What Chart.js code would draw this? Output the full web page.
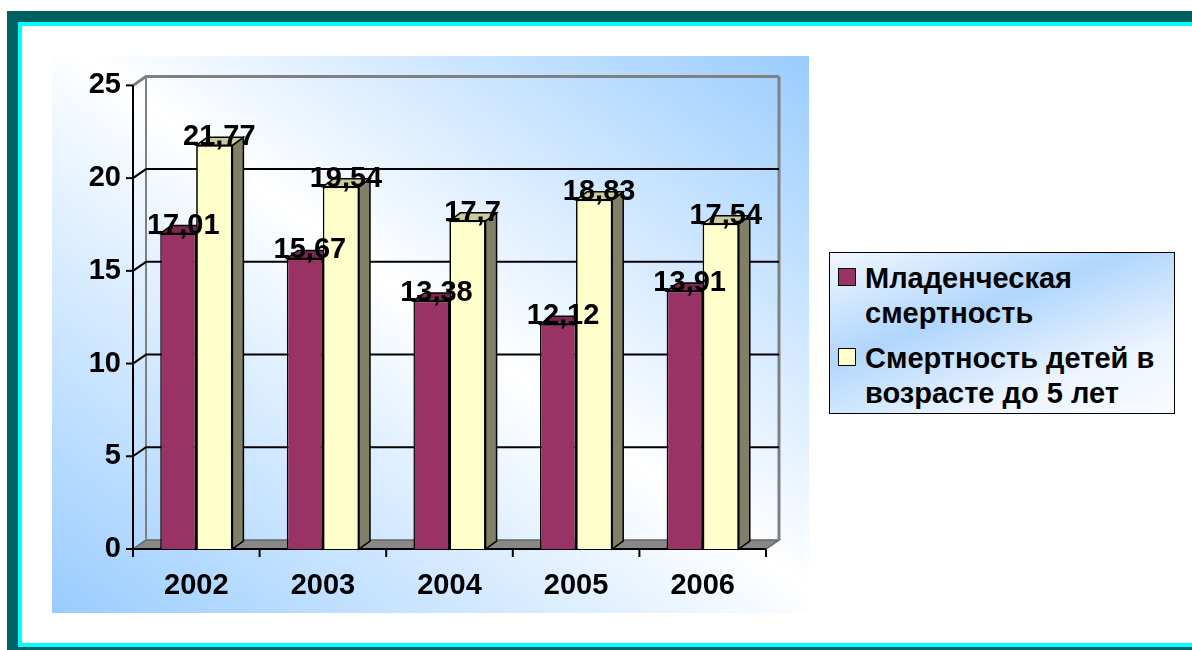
<!DOCTYPE html>
<html>
<head>
<meta charset="utf-8">
<script src="https://cdn.jsdelivr.net/npm/chart.js@4"></script>
<style>
  html, body { margin: 0; padding: 0; width: 1192px; height: 650px; overflow: hidden; background: #fff; }
  .frame { position: absolute; left: 7px; top: 11px; width: 1300px; height: 625px; border: 11px solid #006464; border-top-color: #005f5f; }
  .frame-inner { position: absolute; left: 0; top: 0; right: 0; bottom: 0; border: 4px solid #00ffff; background: #fff; }
  .chart-box { position: absolute; left: 52px; top: 56px; width: 757px; height: 557px;
    background: linear-gradient(to top right, #99ccff 0%, #ffffff 52%, #99ccff 100%); }
  .legend { position: absolute; left: 829px; top: 252px; width: 344px; height: 160px; border: 1px solid #000;
    background: linear-gradient(160deg, #f2f7ff 0%, #b0d6fc 38%, #eef5ff 75%, #f8fbff 100%);
    font: bold 29px "Liberation Sans", Arial, sans-serif; color: #000; }
  .item { position: absolute; left: 8px; display: flex; line-height: 35px; }
  .swatch { width: 16px; height: 16px; border: 1.5px solid #000; margin-top: 7px; margin-right: 9px; flex: none; }
</style>
</head>
<body>
<div class="frame"><div class="frame-inner"></div></div>
<div class="chart-box"><canvas id="chart" width="757" height="557"></canvas></div>
<div class="legend">
  <div class="item" style="top: 8px;"><span class="swatch" style="background:#993366"></span><span>Младенческая<br>смертность</span></div>
  <div class="item" style="top: 88px;"><span class="swatch" style="background:#ffffcc"></span><span>Смертность детей в<br>возрасте до 5 лет</span></div>
</div>
<script>
const years = ["2002", "2003", "2004", "2005", "2006"];
const infantMortality = [17.01, 15.67, 13.38, 12.12, 13.91];
const underFiveMortality = [21.77, 19.54, 17.7, 18.83, 17.54];
const yTicks = [0, 5, 10, 15, 20, 25];

const FONT = "'Liberation Sans', Arial, sans-serif";
const WALL_DX = 13, WALL_DY = 9;
const BAR_DX = 11, BAR_DY = 8;

const faces = [
  { top: "#7a2952", side: "#4d1933" },
  { top: "#cccc99", side: "#808066" },
];

function line(ctx, pts, color, width) {
  ctx.beginPath();
  ctx.moveTo(pts[0][0], pts[0][1]);
  for (let i = 1; i < pts.length; i++) ctx.lineTo(pts[i][0], pts[i][1]);
  ctx.strokeStyle = color;
  ctx.lineWidth = width;
  ctx.stroke();
}

function poly(ctx, pts, fill) {
  ctx.beginPath();
  ctx.moveTo(pts[0][0], pts[0][1]);
  for (let i = 1; i < pts.length; i++) ctx.lineTo(pts[i][0], pts[i][1]);
  ctx.closePath();
  ctx.fillStyle = fill;
  ctx.fill();
  ctx.strokeStyle = "#000";
  ctx.lineWidth = 1.5;
  ctx.stroke();
}

function barFaces(ctx, bar, f) {
  const xl = bar.x - bar.width / 2;
  const xr = bar.x + bar.width / 2;
  poly(ctx, [[xr, bar.y], [xr + BAR_DX, bar.y - BAR_DY], [xr + BAR_DX, bar.base - BAR_DY], [xr, bar.base]], f.side);
  poly(ctx, [[xl, bar.y], [xl + BAR_DX, bar.y - BAR_DY], [xr + BAR_DX, bar.y - BAR_DY], [xr, bar.y]], f.top);
}

const walls = {
  id: "walls",
  beforeDatasetsDraw(chart) {
    const ctx = chart.ctx;
    const y = chart.scales.y;
    const x = chart.scales.x;
    const l = x.left, r = x.right;
    const y0 = y.getPixelForValue(0);
    const yTop = y.getPixelForValue(25);
    ctx.save();
    // floor
    ctx.beginPath();
    ctx.moveTo(l, y0);
    ctx.lineTo(r, y0);
    ctx.lineTo(r + WALL_DX, y0 - WALL_DY);
    ctx.lineTo(l + WALL_DX, y0 - WALL_DY);
    ctx.closePath();
    ctx.fillStyle = "#888888";
    ctx.fill();
    ctx.strokeStyle = "#666";
    ctx.lineWidth = 1.5;
    ctx.stroke();
    // back wall edges
    line(ctx, [[l + WALL_DX, y0 - WALL_DY], [l + WALL_DX, yTop - WALL_DY]], "#808080", 2);
    line(ctx, [[r + WALL_DX, y0 - WALL_DY], [r + WALL_DX, yTop - WALL_DY]], "#808080", 3);
    // grid lines
    yTicks.forEach((v) => {
      if (v === 0) return;
      const py = y.getPixelForValue(v);
      const c = v === 25 ? "#808080" : "#000";
      line(ctx, [[l, py], [l + WALL_DX, py - WALL_DY], [r + WALL_DX, py - WALL_DY]], c, v === 25 ? 3 : 2);
      line(ctx, [[l - 7, py], [l, py]], "#000", 2);
    });
    line(ctx, [[l - 7, y0], [l, y0]], "#000", 2);
    // front axes
    line(ctx, [[l, yTop], [l, y0 + 8]], "#000", 2);
    line(ctx, [[l, y0], [r, y0]], "#000", 2);
    for (let i = 0; i <= years.length; i++) {
      const px = l + (r - l) * i / years.length;
      line(ctx, [[px, y0], [px, y0 + 8]], "#000", 2);
    }
    ctx.restore();
  },
  afterDatasetsDraw(chart) {
    const ctx = chart.ctx;
    const front = chart.getDatasetMeta(0).data;
    const back = chart.getDatasetMeta(1).data;
    ctx.save();
    front.forEach((bar, i) => {
      barFaces(ctx, bar, faces[0]);
      back[i].draw(ctx);
      barFaces(ctx, back[i], faces[1]);
    });
    ctx.restore();
  },
  afterDraw(chart) {
    const ctx = chart.ctx;
    ctx.save();
    ctx.font = "bold 29px " + FONT;
    ctx.fillStyle = "#000";
    ctx.textAlign = "center";
    ctx.textBaseline = "middle";
    chart.data.datasets.forEach((ds, di) => {
      chart.getDatasetMeta(di).data.forEach((bar, i) => {
        const txt = String(ds.data[i]).replace(".", ",");
        ctx.fillText(txt, bar.x + 5, bar.y - 8);
      });
    });
    ctx.restore();
  },
};

new Chart(document.getElementById("chart"), {
  type: "bar",
  data: {
    labels: years,
    datasets: [
      {
        label: "Младенческая смертность",
        data: infantMortality,
        backgroundColor: "#993366",
        borderColor: "#000",
        borderWidth: 1.5,
      },
      {
        label: "Смертность детей в возрасте до 5 лет",
        data: underFiveMortality,
        backgroundColor: "#ffffcc",
        borderColor: "#000",
        borderWidth: 1.5,
      },
    ],
  },
  options: {
    responsive: false,
    animation: false,
    layout: { padding: { top: 26, right: 43, left: 0, bottom: 0 } },
    datasets: { bar: { categoryPercentage: 0.57, barPercentage: 1 } },
    plugins: { legend: { display: false }, tooltip: { enabled: false } },
    scales: {
      x: {
        grid: { display: false, drawTicks: false },
        border: { display: false },
        ticks: { color: "#000", font: { family: FONT, size: 29, weight: "bold" }, padding: 20 },
        afterFit: (s) => { s.height = 64; },
      },
      y: {
        min: 0,
        max: 25,
        grid: { display: false, drawTicks: false },
        border: { display: false },
        ticks: { stepSize: 5, color: "#000", font: { family: FONT, size: 29, weight: "bold" }, padding: 12 },
        afterFit: (s) => { s.width = 81; },
      },
    },
  },
  plugins: [walls],
});
</script>
</body>
</html>
